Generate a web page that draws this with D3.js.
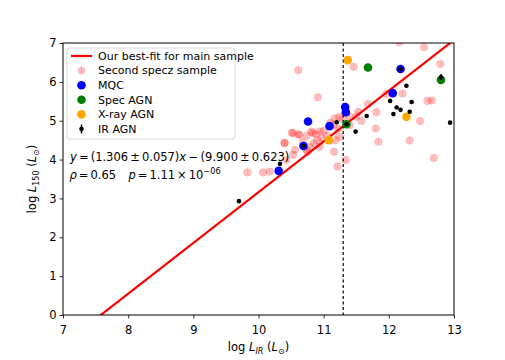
<!DOCTYPE html>
<html>
<head>
<meta charset="utf-8">
<script src="https://cdn.jsdelivr.net/npm/d3@7"></script>
<style>
  body { margin: 0; background: #fff; }
  svg { font-family: "DejaVu Sans", sans-serif; }
</style>
</head>
<body>
<div id="chart"></div>
<script>
// fit line
var fitSlope = 1.306, fitIntercept = -9.900;
var cutX = 11.3;

// second specz sample (log LIR, log L150)
var speczX = [10.61, 11.46, 10.91, 12.54, 12.16, 12.79, 11.96, 12.21, 12.59, 12.66, 11.81, 11.53, 11.68, 11.40, 11.58,
  11.80, 12.48, 11.84, 12.32, 12.69, 11.34, 11.21, 11.16, 10.53, 10.43, 9.83, 10.07, 10.17, 10.40, 10.75, 10.94,
  10.53, 10.63, 10.74, 10.81, 10.88, 10.94, 11.00, 10.97, 10.90, 10.85, 10.79, 10.56, 10.74,
  11.17, 11.24, 11.29, 11.15, 11.22, 11.24, 11.18, 11.40, 11.50, 10.40, 10.61, 10.51, 10.83, 11.05, 11.10, 10.68];
var speczY = [6.30, 6.39, 5.60, 6.89, 7.02, 6.46, 5.69, 5.70, 5.51, 5.52, 5.22, 5.23, 5.43, 5.10, 5.00,
  4.80, 4.99, 4.46, 4.49, 4.04, 3.99, 3.82, 4.20, 4.12, 3.99, 3.67, 3.67, 3.69, 4.42, 4.20, 4.33,
  4.68, 4.63, 4.61, 4.72, 4.66, 4.72, 4.74, 4.55, 4.50, 4.42, 4.33, 4.25, 4.25,
  5.06, 5.10, 5.04, 4.89, 4.80, 4.59, 4.50, 4.89, 5.10, 4.43, 4.65, 4.69, 4.69, 4.62, 4.95, 4.45];

var mqcX = [10.76, 11.09, 11.33, 11.34, 10.69, 10.31, 12.18, 12.06];
var mqcY = [4.98, 4.86, 5.35, 5.22, 4.35, 3.71, 6.33, 5.71];

var specAgnX = [11.68, 12.80, 11.35];
var specAgnY = [6.37, 6.05, 4.91];

var xrayX = [11.37, 12.27, 11.08];
var xrayY = [6.56, 5.10, 4.50];

var irX = [9.70, 10.33, 10.69, 11.20, 11.35, 11.49, 11.66, 12.02, 12.27, 12.35, 12.12, 12.18, 12.07, 12.32, 12.94, 12.18, 12.80];
var irY = [2.93, 3.89, 4.35, 4.96, 4.91, 4.72, 5.12, 5.51, 5.90, 5.48, 5.34, 5.28, 5.17, 5.23, 4.95, 6.33, 6.12];
var irErr = [0.02, 0.03, 0.02, 0.02, 0.02, 0.02, 0.02, 0.02, 0.03, 0.02, 0.02, 0.02, 0.02, 0.02, 0.02, 0.02, 0.08];

var xTicks = [7, 8, 9, 10, 11, 12, 13];
var yTicks = [0, 1, 2, 3, 4, 5, 6, 7];

var W = 505, H = 360;
var margin = {top: 43, right: 51, bottom: 45, left: 63},
    width = W - margin.left - margin.right,
    height = H - margin.top - margin.bottom;

var svg = d3.select("#chart").append("svg")
    .attr("width", W)
    .attr("height", H);

var g = svg.append("g")
    .attr("transform", "translate(" + margin.left + "," + margin.top + ")");

var x = d3.scaleLinear().domain([7, 13]).range([0, width]);
var y = d3.scaleLinear().domain([0, 7]).range([height, 0]);

g.append("clipPath").attr("id", "clip")
  .append("rect").attr("width", width).attr("height", height);

var plot = g.append("g").attr("clip-path", "url(#clip)");

// second specz points
var specz = speczX.map((v, i) => ({x: v, y: speczY[i]}));
plot.selectAll(".specz")
    .data(specz)
  .enter().append("circle")
    .attr("class", "specz")
    .attr("cx", d => x(d.x))
    .attr("cy", d => y(d.y))
    .attr("r", 3.8)
    .attr("fill", "#ff0000")
    .attr("fill-opacity", 0.24)
    .attr("stroke", "#ff0000")
    .attr("stroke-opacity", 0.12)
    .attr("stroke-width", 1);
plot.selectAll(".speczbar")
    .data(specz)
  .enter().append("line")
    .attr("x1", d => x(d.x)).attr("x2", d => x(d.x))
    .attr("y1", d => y(d.y) - 2.5).attr("y2", d => y(d.y) + 2.5)
    .attr("stroke", "#ff0000")
    .attr("stroke-opacity", 0.15);

// best-fit line
plot.append("line")
    .attr("x1", x(7)).attr("y1", y(fitSlope * 7 + fitIntercept))
    .attr("x2", x(13)).attr("y2", y(fitSlope * 13 + fitIntercept))
    .attr("stroke", "#ff0000")
    .attr("stroke-width", 2.2);

// cut line
plot.append("line")
    .attr("x1", x(cutX)).attr("x2", x(cutX))
    .attr("y1", 0).attr("y2", height)
    .attr("stroke", "#000")
    .attr("stroke-width", 1.2)
    .attr("stroke-dasharray", "3,2.5");

function dots(xs, ys, color, r) {
  plot.selectAll(null)
      .data(xs.map((v, i) => ({x: v, y: ys[i]})))
    .enter().append("circle")
      .attr("cx", d => x(d.x))
      .attr("cy", d => y(d.y))
      .attr("r", r)
      .attr("fill", color);
}

dots(mqcX, mqcY, "#0000ff", 4.3);
dots(specAgnX, specAgnY, "#008000", 4.3);
dots(xrayX, xrayY, "#ffa500", 4.3);

// IR AGN with error bars
var ir = irX.map((v, i) => ({x: v, y: irY[i], e: irErr[i]}));
plot.selectAll(".irbar")
    .data(ir)
  .enter().append("line")
    .attr("x1", d => x(d.x)).attr("x2", d => x(d.x))
    .attr("y1", d => y(d.y - d.e)).attr("y2", d => y(d.y + d.e))
    .attr("stroke", "#000").attr("stroke-width", 1.5);
dots(irX, irY, "#000", 2.3);

// axes
var xAxis = g.append("g")
    .attr("transform", "translate(0," + height + ")")
    .call(d3.axisBottom(x).tickValues(xTicks).tickFormat(d3.format("d")).tickSizeOuter(0).tickSize(3.5));
var yAxis = g.append("g")
    .call(d3.axisLeft(y).tickValues(yTicks).tickFormat(d3.format("d")).tickSizeOuter(0).tickSize(3.5));
[xAxis, yAxis].forEach(a => {
  a.select(".domain").remove();
  a.selectAll("text").attr("font-size", 11.5).attr("font-family", "DejaVu Sans").attr("fill", "#000");
  a.selectAll("line").attr("stroke", "#000").attr("stroke-width", 0.8);
});
xAxis.selectAll("text").attr("dy", "1.05em");

g.append("rect")
    .attr("width", width).attr("height", height)
    .attr("fill", "none").attr("stroke", "#000").attr("stroke-width", 1);

// axis labels
var xl = svg.append("text")
    .attr("x", margin.left + width / 2).attr("y", 351)
    .attr("text-anchor", "middle").attr("font-size", 11.5);
xl.append("tspan").text("log ");
xl.append("tspan").attr("font-style", "italic").text("L");
xl.append("tspan").attr("font-style", "italic").attr("font-size", 8).attr("dy", 2.5).text("IR");
xl.append("tspan").attr("dy", -2.5).text(" (");
xl.append("tspan").attr("font-style", "italic").text("L");
xl.append("tspan").attr("font-size", 8).attr("dy", 2.5).text("⊙");
xl.append("tspan").attr("dy", -2.5).text(")");

var yl = svg.append("text")
    .attr("transform", "translate(36," + (margin.top + height / 2) + ") rotate(-90)")
    .attr("text-anchor", "middle").attr("font-size", 11.5);
yl.append("tspan").text("log ");
yl.append("tspan").attr("font-style", "italic").text("L");
yl.append("tspan").attr("font-size", 8).attr("dy", 2.5).text("150");
yl.append("tspan").attr("dy", -2.5).text(" (");
yl.append("tspan").attr("font-style", "italic").text("L");
yl.append("tspan").attr("font-size", 8).attr("dy", 2.5).text("⊙");
yl.append("tspan").attr("dy", -2.5).text(")");

// legend
var legend = svg.append("g").attr("transform", "translate(67,48)");
legend.append("rect")
    .attr("width", 168).attr("height", 91).attr("rx", 2.5)
    .attr("fill", "#fff").attr("fill-opacity", 0.8)
    .attr("stroke", "#d6d6d6").attr("stroke-width", 1);
var legendItems = [
  {label: "Our best-fit for main sample", type: "line", color: "#ff0000"},
  {label: "Second specz sample", type: "pink", color: "#ff0000"},
  {label: "MQC", type: "dot", color: "#0000ff"},
  {label: "Spec AGN", type: "dot", color: "#008000"},
  {label: "X-ray AGN", type: "dot", color: "#ffa500"},
  {label: "IR AGN", type: "err", color: "#000"}
];
legendItems.forEach(function(it, i) {
  var row = legend.append("g").attr("transform", "translate(0," + (8 + i * 14.6) + ")");
  if (it.type == "line") {
    row.append("line").attr("x1", 4).attr("x2", 25).attr("stroke", it.color).attr("stroke-width", 2.2);
  } else if (it.type == "pink") {
    row.append("circle").attr("cx", 14.5).attr("r", 3.8).attr("fill", it.color).attr("fill-opacity", 0.25);
    row.append("line").attr("x1", 14.5).attr("x2", 14.5).attr("y1", -4).attr("y2", 4)
      .attr("stroke", it.color).attr("stroke-opacity", 0.2);
  } else if (it.type == "dot") {
    row.append("circle").attr("cx", 14.5).attr("r", 4.3).attr("fill", it.color);
  } else {
    row.append("line").attr("x1", 14.5).attr("x2", 14.5).attr("y1", -4.5).attr("y2", 4.5)
      .attr("stroke", "#000").attr("stroke-width", 1.5);
    row.append("circle").attr("cx", 14.5).attr("r", 2.3).attr("fill", "#000");
  }
  row.append("text").attr("x", 31).attr("dy", "0.35em").attr("font-size", 11).text(it.label);
});

// fit annotation (mathtext-like spacing around operators)
function mathLine(xp, yp, parts) {
  var t = svg.append("text").attr("x", xp).attr("y", yp).attr("font-size", 11.5);
  parts.forEach(function(p) {
    var s = t.append("tspan").text(p.t);
    if (p.i) s.attr("font-style", "italic");
    if (p.dx) s.attr("dx", p.dx);
    if (p.sup) s.attr("font-size", 8.2).attr("dy", -4.8);
  });
  return t;
}
mathLine(70, 161, [
  {t: "y", i: 1}, {t: "=", dx: 2.1}, {t: "(1.306", dx: 2.1}, {t: "±", dx: 2.1}, {t: "0.057)", dx: 2.1},
  {t: "x", i: 1}, {t: "−", dx: 2.4}, {t: "(9.900", dx: 2.4}, {t: "±", dx: 2.1}, {t: "0.623)", dx: 2.1}
]);
mathLine(69.5, 179, [
  {t: "ρ", i: 1}, {t: "=", dx: 2}, {t: "0.65", dx: 2}
]);
mathLine(128.5, 179, [
  {t: "p", i: 1}, {t: "=", dx: 2}, {t: "1.11", dx: 2}, {t: "×", dx: 2}, {t: "10", dx: 2},
  {t: "−06", sup: 1}
]);
</script>
</body>
</html>
